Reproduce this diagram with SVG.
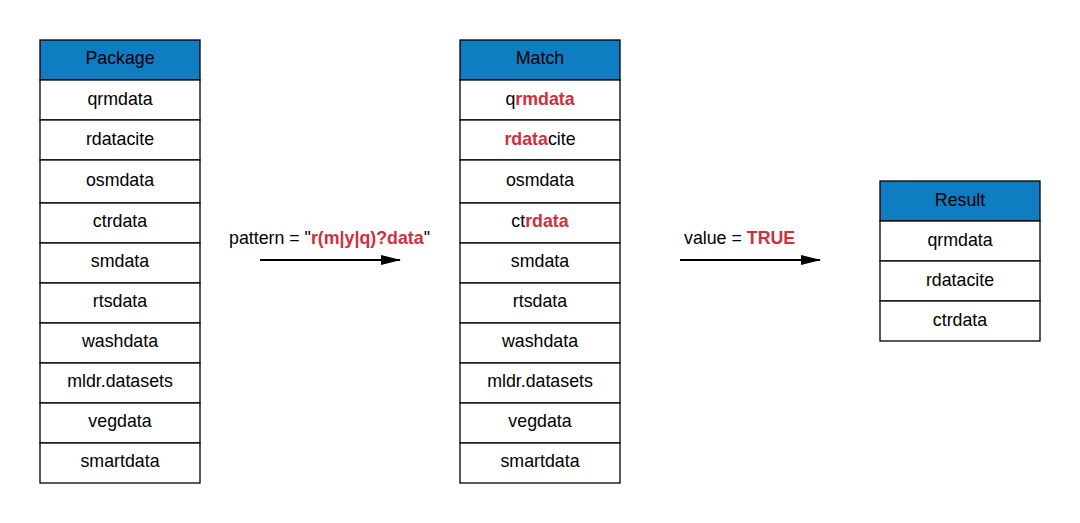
<svg xmlns="http://www.w3.org/2000/svg" width="1080" height="523" viewBox="0 0 1080 523">
<style>
.cell{fill:#ffffff;stroke:#000000;stroke-width:1.3}
.head{fill:#0f7dc2;stroke:#000000;stroke-width:1.3}
text{font-family:"Liberation Sans",Arial,sans-serif;font-size:17.8px;fill:#000000;text-anchor:middle}
.lbl{text-anchor:start}
.r{fill:#d0303a;font-weight:bold}
.conn{stroke:#000000;stroke-width:2;fill:none}
</style>
<defs>
<marker id="arr" markerWidth="20" markerHeight="12" refX="19" refY="6" orient="auto" markerUnits="userSpaceOnUse" viewBox="0 0 20 12">
<path d="M0,1 L20,6 L0,11 Z" fill="#000000"/>
</marker>
</defs>
<rect width="1080" height="523" fill="#ffffff"/>
<g id="package">
<rect class="head" x="40" y="40" width="160" height="40"/>
<text x="120" y="63.5">Package</text>
<rect class="cell" x="40" y="80" width="160" height="40"/><text x="120" y="104.5">qrmdata</text>
<rect class="cell" x="40" y="120" width="160" height="40"/><text x="120" y="144.5">rdatacite</text>
<rect class="cell" x="40" y="160" width="160" height="43"/><text x="120" y="185.5">osmdata</text>
<rect class="cell" x="40" y="203" width="160" height="40"/><text x="120" y="226.5">ctrdata</text>
<rect class="cell" x="40" y="243" width="160" height="40"/><text x="120" y="266.5">smdata</text>
<rect class="cell" x="40" y="283" width="160" height="40"/><text x="120" y="306.5">rtsdata</text>
<rect class="cell" x="40" y="323" width="160" height="40"/><text x="120" y="346.5">washdata</text>
<rect class="cell" x="40" y="363" width="160" height="40"/><text x="120" y="386.5">mldr.datasets</text>
<rect class="cell" x="40" y="403" width="160" height="40"/><text x="120" y="426.5">vegdata</text>
<rect class="cell" x="40" y="443" width="160" height="40"/><text x="120" y="466.5">smartdata</text>
</g>
<g id="match">
<rect class="head" x="460" y="40" width="160" height="40"/>
<text x="540" y="63.5">Match</text>
<rect class="cell" x="460" y="80" width="160" height="40"/><text x="540" y="104.5">q<tspan class="r">rmdata</tspan></text>
<rect class="cell" x="460" y="120" width="160" height="40"/><text x="540" y="144.5"><tspan class="r">rdata</tspan>cite</text>
<rect class="cell" x="460" y="160" width="160" height="43"/><text x="540" y="185.5">osmdata</text>
<rect class="cell" x="460" y="203" width="160" height="40"/><text x="540" y="226.5">ct<tspan class="r">rdata</tspan></text>
<rect class="cell" x="460" y="243" width="160" height="40"/><text x="540" y="266.5">smdata</text>
<rect class="cell" x="460" y="283" width="160" height="40"/><text x="540" y="306.5">rtsdata</text>
<rect class="cell" x="460" y="323" width="160" height="40"/><text x="540" y="346.5">washdata</text>
<rect class="cell" x="460" y="363" width="160" height="40"/><text x="540" y="386.5">mldr.datasets</text>
<rect class="cell" x="460" y="403" width="160" height="40"/><text x="540" y="426.5">vegdata</text>
<rect class="cell" x="460" y="443" width="160" height="40"/><text x="540" y="466.5">smartdata</text>
</g>
<g id="result">
<rect class="head" x="880" y="181" width="160" height="40"/>
<text x="960" y="205.5">Result</text>
<rect class="cell" x="880" y="221" width="160" height="40"/><text x="960" y="245.5">qrmdata</text>
<rect class="cell" x="880" y="261" width="160" height="40"/><text x="960" y="285.5">rdatacite</text>
<rect class="cell" x="880" y="301" width="160" height="40"/><text x="960" y="325.5">ctrdata</text>
</g>
<g id="connectors">
<line class="conn" x1="260" y1="260" x2="400" y2="260" marker-end="url(#arr)"/>
<text class="lbl" x="229" y="244">pattern = "<tspan class="r">r(m|y|q)?data</tspan>"</text>
<line class="conn" x1="680" y1="260" x2="820" y2="260" marker-end="url(#arr)"/>
<text class="lbl" x="684" y="244">value = <tspan class="r">TRUE</tspan></text>
</g>
</svg>
